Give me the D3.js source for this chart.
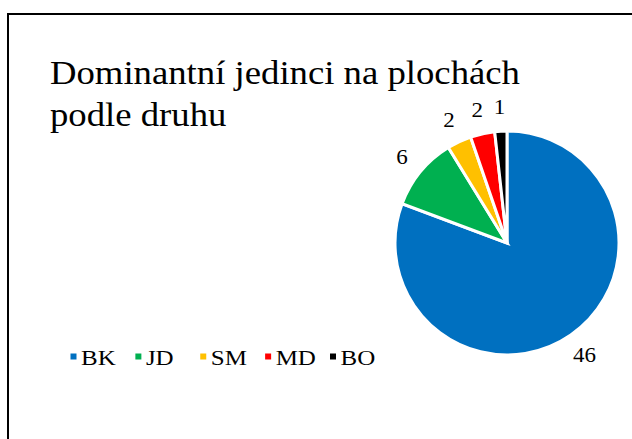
<!DOCTYPE html>
<html><head><meta charset="utf-8">
<script src="https://cdn.jsdelivr.net/npm/d3@7/dist/d3.min.js"></script>
<style>body{margin:0;background:#fff}svg{display:block}</style>
</head><body><svg id="c" width="632" height="439"></svg>
<script>
const categories = ["BK","JD","SM","MD","BO"];
const values = [46,6,2,2,1];
const colors = ["#0070C0","#00B050","#FFC000","#FF0000","#000000"];
const titleLines = ["Dominantní jedinci na plochách","podle druhu"];

const FF = '"Liberation Serif", monospace';
const svg = d3.select("#c");
svg.append("rect").attr("x",8).attr("y",14).attr("width",700).attr("height",500)
  .attr("fill","#fff").attr("stroke","#000").attr("stroke-width",2);

svg.append("g").selectAll("text").data(titleLines).join("text")
  .attr("transform",(d,i)=>`translate(50,${84+i*42}) scale(1.08,1)`)
  .style("font-family",FF).style("font-size","34px").attr("fill","#000").text(d=>d);

const cx=507, cy=243, r=112;
const pie = d3.pie().sort(null).value(d=>d)(values);
const arc = d3.arc().innerRadius(0).outerRadius(r);
const g = svg.append("g").attr("transform",`translate(${cx},${cy})`);
g.selectAll("path").data(pie).join("path")
  .attr("d",arc).attr("fill",(d,i)=>colors[i])
  .attr("stroke","#fff").attr("stroke-width",3).attr("stroke-linejoin","miter");

const labelArc = d3.arc().innerRadius(r+24).outerRadius(r+24);
g.selectAll("text").data(pie).join("text")
  .attr("transform",d=>{const c=labelArc.centroid(d);return `translate(${c[0]},${c[1]}) scale(1.15,1)`;})
  .attr("text-anchor","middle").attr("dy","0.35em")
  .style("font-family",FF).style("font-size","20px").attr("fill","#000")
  .text(d=>d.data);

const legendX = d3.scalePoint().domain(categories).range([70.5,330]);
const lg = svg.append("g").selectAll("g").data(categories).join("g")
  .attr("transform",d=>`translate(${legendX(d)},356.5)`);
lg.append("rect").attr("x",0).attr("y",-3).attr("width",6).attr("height",6)
  .attr("fill",(d,i)=>colors[i]);
lg.append("text").attr("transform","translate(10.5,8.5) scale(1.25,1)")
  .style("font-family",FF).style("font-size","20px").attr("fill","#000").text(d=>d);
</script></body></html>
